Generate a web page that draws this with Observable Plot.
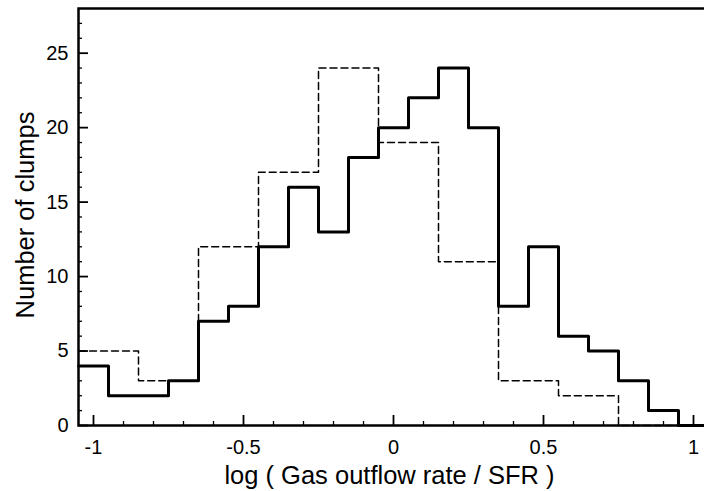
<!DOCTYPE html>
<html><head><meta charset="utf-8">
<script src="https://cdn.jsdelivr.net/npm/d3@7"></script>
<script src="https://cdn.jsdelivr.net/npm/@observablehq/plot@0.6"></script>
<style>html,body{margin:0;padding:0;background:#fff;overflow:hidden}</style>
</head><body><div id="chart"></div>
<script>
const binCenters = [-1.0,-0.9,-0.8,-0.7,-0.6,-0.5,-0.4,-0.3,-0.2,-0.1,0.0,0.1,0.2,0.3,0.4,0.5,0.6,0.7,0.8,0.9,1.0];
const solidCounts = [4,2,2,3,7,8,12,16,13,18,20,22,24,20,8,12,6,5,3,1,0];
const dashedCounts = [5,5,3,3,12,12,17,17,24,24,19,19,11,11,3,3,2,2,0,0,0];
const binWidth = 0.1;
const xMajorTicks = [-1,-0.5,0,0.5,1];
const xTickLabels = ["-1","-0.5","0","0.5","1"];
const xMinorTicks = [-0.9,-0.8,-0.7,-0.6,-0.4,-0.3,-0.2,-0.1,0.1,0.2,0.3,0.4,0.6,0.7,0.8,0.9];
const yMajorTicks = [0,5,10,15,20,25];
const yMinorTicks = [1,2,3,4,6,7,8,9,11,12,13,14,16,17,18,19,21,22,23,24,26,27];
const xTitle = "log ( Gas outflow rate / SFR )";
const yTitle = "Number of clumps";

function steps(counts) {
  const pts = binCenters.map((c, i) => ({x: c - binWidth / 2, y: counts[i]}));
  pts.push({x: binCenters[binCenters.length - 1] + binWidth / 2, y: counts[counts.length - 1]});
  return pts;
}

const W = 704, H = 491, mL = 78, mR = -4, mT = 8, mB = 66;
const innerW = W - mL - mR, innerH = H - mT - mB;

const chart = Plot.plot({
  width: W, height: H,
  marginLeft: mL, marginRight: mR, marginTop: mT, marginBottom: mB,
  style: {fontFamily: "Liberation Sans, Arial, Helvetica, sans-serif", fontSize: "20px", background: "#fff", color: "#000", overflow: "hidden"},
  x: {domain: [-1.05, 1.05]},
  y: {domain: [0, 28]},
  marks: [
    Plot.line(steps(dashedCounts), {x: "x", y: "y", curve: "step-after", stroke: "#000", strokeWidth: 1.5, strokeDasharray: "7,4"}),
    Plot.line(steps(solidCounts), {x: "x", y: "y", curve: "step-after", stroke: "#000", strokeWidth: 3}),
    Plot.tickX(xMinorTicks, {x: d => d, insetTop: innerH - 4, stroke: "#000", strokeWidth: 1.3}),
    Plot.tickX(xMajorTicks, {x: d => d, insetTop: innerH - 10, stroke: "#000", strokeWidth: 1.8}),
    Plot.tickY(yMinorTicks, {y: d => d, insetRight: innerW - 4, stroke: "#000", strokeWidth: 1.3}),
    Plot.tickY(yMajorTicks, {y: d => d, insetRight: innerW - 10, stroke: "#000", strokeWidth: 1.8}),
    Plot.frame({stroke: "#000", strokeWidth: 2.5}),
    Plot.axisX(xMajorTicks, {tickSize: 0, tickPadding: 14, tickFormat: d => xTickLabels[xMajorTicks.indexOf(d)], label: null, fontSize: 20}),
    Plot.axisY(yMajorTicks, {tickSize: 0, tickPadding: 10, tickFormat: d => String(d), label: null, fontSize: 20}),
    Plot.text([xTitle], {frameAnchor: "bottom", lineAnchor: "bottom", textAnchor: "middle", dy: 58, dx: -4, fontSize: 25.5, text: d => d, fill: "#000"}),
    Plot.text([yTitle], {frameAnchor: "left", lineAnchor: "middle", textAnchor: "middle", dx: -53, dy: -2, rotate: -90, fontSize: 25.5, text: d => d, fill: "#000"})
  ]
});
document.getElementById("chart").appendChild(chart);
</script>
</body></html>
